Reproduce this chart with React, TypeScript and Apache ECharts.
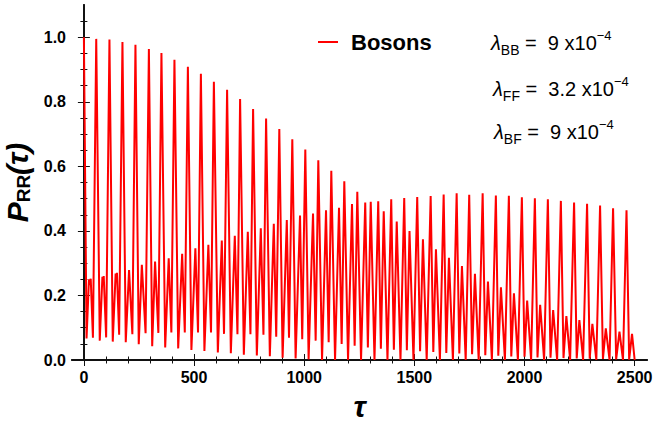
import { useEffect, useRef } from "react";
import * as echarts from "echarts";

// Main (first-family) peaks
const mainTau = [0, 56, 116, 175, 234, 295, 352, 411, 472, 531, 590, 650, 709, 768, 827, 887, 946, 1005, 1064, 1123, 1182, 1241, 1302, 1361, 1420, 1478, 1539, 1598, 1657, 1716, 1775, 1834, 1893, 1952, 2012, 2071, 2130, 2190, 2249, 2308, 2369, 2431, 2488];
const mainP = [1.0, 0.995, 0.993, 0.985, 0.977, 0.964, 0.951, 0.93, 0.909, 0.887, 0.862, 0.837, 0.809, 0.778, 0.748, 0.716, 0.684, 0.652, 0.619, 0.586, 0.554, 0.521, 0.49, 0.461, 0.429, 0.4, 0.374, 0.343, 0.317, 0.291, 0.267, 0.243, 0.225, 0.207, 0.184, 0.171, 0.155, 0.136, 0.124, 0.112, 0.098, 0.088, 0.081];

// Secondary peaks (first three are small double humps)
const secTau = [23, 27, 31, 84, 87, 90, 144, 147, 150, 205, 263, 323, 385, 446, 506, 565, 626, 685, 744, 803, 862, 921, 981, 1040, 1099, 1158, 1217, 1277, 1336, 1395, 1454, 1513, 1574, 1633, 1692, 1749, 1810, 1870, 1929, 1988, 2047, 2106, 2165, 2225, 2284, 2343, 2402, 2463];
const secP = [0.25, 0.232, 0.252, 0.258, 0.245, 0.26, 0.268, 0.258, 0.27, 0.279, 0.295, 0.305, 0.315, 0.329, 0.346, 0.357, 0.37, 0.385, 0.397, 0.408, 0.422, 0.434, 0.448, 0.454, 0.464, 0.472, 0.483, 0.488, 0.492, 0.498, 0.502, 0.505, 0.508, 0.513, 0.517, 0.512, 0.517, 0.51, 0.509, 0.504, 0.501, 0.498, 0.493, 0.488, 0.484, 0.479, 0.47, 0.464];

// Troughs between main peak and following secondary peak
const troughATau = [12, 72, 131, 190, 249, 310, 369, 428, 488, 547, 608, 667, 726, 785, 844, 902, 961, 1020, 1081, 1140, 1199, 1258, 1319, 1378, 1437, 1496, 1556, 1616, 1675, 1733, 1792, 1852, 1911, 1970, 2030, 2089, 2148, 2207, 2266, 2326, 2386, 2447];
const troughAP = [0.067, 0.06, 0.057, 0.055, 0.049, 0.043, 0.039, 0.036, 0.031, 0.028, 0.023, 0.021, 0.016, 0.014, 0.012, 0.007, 0.005, 0.002, 0, 0, 0, 0, 0, 0, 0, 0, 0, 0, 0, 0, 0, 0, 0, 0, 0, 0, 0, 0, 0, 0, 0, 0];

// Troughs between secondary peak and next main peak
const troughBTau = [41, 101, 160, 220, 280, 338, 397, 458, 518, 577, 636, 697, 756, 815, 873, 931, 991, 1052, 1111, 1170, 1229, 1289, 1348, 1407, 1466, 1526, 1586, 1645, 1704, 1762, 1822, 1881, 1940, 2000, 2059, 2118, 2177, 2237, 2296, 2356, 2416, 2475];
const troughBP = [0.069, 0.07, 0.078, 0.08, 0.083, 0.084, 0.085, 0.085, 0.085, 0.085, 0.081, 0.08, 0.08, 0.078, 0.072, 0.069, 0.064, 0.06, 0.055, 0.05, 0.044, 0.039, 0.035, 0.032, 0.03, 0.027, 0.025, 0.022, 0.02, 0.018, 0.015, 0.013, 0.011, 0.01, 0.008, 0.007, 0.006, 0.005, 0.004, 0.003, 0.002, 0.001];

const endTau = [2500];
const endP = [0.0];

const xMajorTicks = [0, 500, 1000, 1500, 2000, 2500];
const xMinorTicks = [100, 200, 300, 400, 600, 700, 800, 900, 1100, 1200, 1300, 1400, 1600, 1700, 1800, 1900, 2100, 2200, 2300, 2400];
const yMajorTicks = [0, 0.2, 0.4, 0.6, 0.8, 1.0];
const yMinorTicks = [0.05, 0.1, 0.15, 0.25, 0.3, 0.35, 0.45, 0.5, 0.55, 0.65, 0.7, 0.75, 0.85, 0.9, 0.95, 1.05];

const FONT = "'Liberation Sans', Arial, sans-serif";

export default function App() {
  const ref = useRef<HTMLDivElement>(null);
  useEffect(() => {
    document.body.style.margin = "0";
    const chart = echarts.init(ref.current!, null, { renderer: "svg" });
    const pts: [number, number][] = [];
    const add = (t: number[], p: number[]) => t.forEach((v, i) => pts.push([v, p[i]]));
    add(mainTau, mainP);
    add(secTau, secP);
    add(troughATau, troughAP);
    add(troughBTau, troughBP);
    add(endTau, endP);
    pts.sort((a, b) => a[0] - b[0]);

    const frame = { show: true, lineStyle: { color: "#111", width: 1.8 } };
    const xBase = { type: "value", min: -54, max: 2556, splitLine: { show: false } };
    const yBase = { type: "value", min: 0, max: 1.1, splitLine: { show: false } };
    const majTick = (vals: number[]) => ({ show: true, inside: true, length: 6, customValues: vals, lineStyle: { color: "#111", width: 1 } });
    const minTick = (vals: number[]) => ({ show: true, inside: true, length: 3.5, customValues: vals, lineStyle: { color: "#111", width: 1 } });
    const labelStyle = { fontSize: 16, fontWeight: "bold", color: "#000", fontFamily: FONT };

    const lamRich = {
      l: { fontSize: 20, fontStyle: "italic", fontFamily: FONT, fill: "#000", lineHeight: 28 },
      s: { fontSize: 14, fontFamily: FONT, fill: "#000", lineHeight: 20, verticalAlign: "bottom" },
      m: { fontSize: 20, fontFamily: FONT, fill: "#000", lineHeight: 28 },
      u: { fontSize: 13, fontFamily: FONT, fill: "#000", lineHeight: 17, verticalAlign: "top" },
    };

    const gridPos = { left: 72, right: 8, top: 5, bottom: 62, containLabel: false, outerBoundsMode: "none" };

    chart.setOption({
      animation: false,
      grid: [gridPos, gridPos],
      legend: {
        data: ["Bosons"],
        left: 313,
        top: 26,
        icon: "rect",
        itemWidth: 20,
        itemHeight: 2,
        textStyle: { fontSize: 22, fontWeight: "bold", color: "#000", fontFamily: FONT, padding: [0, 0, 0, 8] },
      },
      xAxis: [
        {
          ...xBase, gridIndex: 0, position: "bottom", axisLine: frame, axisTick: majTick(xMajorTicks),
          axisLabel: { ...labelStyle, customValues: xMajorTicks, margin: 9, formatter: (v: number) => String(v) },
          name: "τ", nameLocation: "middle", nameGap: 31,
          nameTextStyle: { fontSize: 30, fontWeight: "bold", fontStyle: "italic", color: "#000", fontFamily: FONT },
        },
        { ...xBase, gridIndex: 0, position: "top", axisLine: frame, axisTick: majTick(xMajorTicks), axisLabel: { show: false } },
        { ...xBase, gridIndex: 1, position: "bottom", axisLine: { show: false }, axisTick: minTick(xMinorTicks), axisLabel: { show: false } },
        { ...xBase, gridIndex: 1, position: "top", axisLine: { show: false }, axisTick: minTick(xMinorTicks), axisLabel: { show: false } },
      ],
      yAxis: [
        {
          ...yBase, gridIndex: 0, position: "left", axisLine: frame, axisTick: majTick(yMajorTicks),
          axisLabel: { ...labelStyle, customValues: yMajorTicks, margin: 6, formatter: (v: number) => v.toFixed(1) },
          name: "{p|P}{s|RR}{p|(τ)}", nameLocation: "middle", nameRotate: 90, nameGap: 37,
          nameTextStyle: {
            rich: {
              p: { fontSize: 30, fontWeight: "bold", fontStyle: "italic", color: "#000", fontFamily: FONT, lineHeight: 30 },
              s: { fontSize: 19, fontWeight: "bold", color: "#000", fontFamily: FONT, lineHeight: 22, verticalAlign: "bottom" },
            },
          },
        },
        { ...yBase, gridIndex: 0, position: "right", axisLine: frame, axisTick: majTick(yMajorTicks), axisLabel: { show: false } },
        { ...yBase, gridIndex: 1, position: "left", axisLine: { show: false }, axisTick: minTick(yMinorTicks), axisLabel: { show: false } },
        { ...yBase, gridIndex: 1, position: "right", axisLine: { show: false }, axisTick: minTick(yMinorTicks), axisLabel: { show: false } },
      ],
      series: [
        {
          name: "Bosons",
          type: "line",
          xAxisIndex: 0,
          yAxisIndex: 0,
          data: pts,
          showSymbol: false,
          symbol: "none",
          color: "#ff0000",
          lineStyle: { color: "#ff0000", width: 2 },
          clip: true,
        },
      ],
      graphic: [
        { type: "text", x: 491, y: 43, style: { text: "{l|λ}{s|BB}{m| =  9 x10}{u|−4}", rich: lamRich, verticalAlign: "middle", align: "left" } },
        { type: "text", x: 493, y: 89, style: { text: "{l|λ}{s|FF}{m| =  3.2 x10}{u|−4}", rich: lamRich, verticalAlign: "middle", align: "left" } },
        { type: "text", x: 494, y: 132, style: { text: "{l|λ}{s|BF}{m| =  9 x10}{u|−4}", rich: lamRich, verticalAlign: "middle", align: "left" } },
      ],
    });
    return () => chart.dispose();
  }, []);
  return <div ref={ref} style={{ width: 655, height: 422 }} />;
}
